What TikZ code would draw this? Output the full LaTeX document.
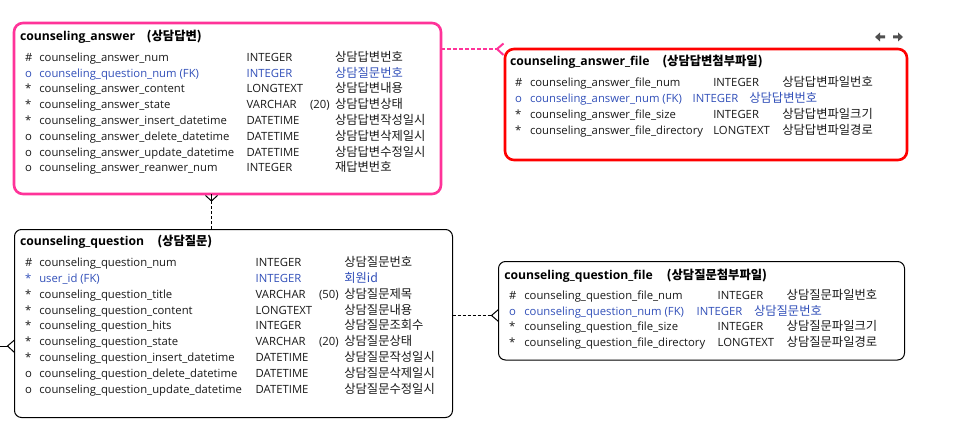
\documentclass[tikz,border=0pt]{standalone}
\usepackage{fontspec}
\setmainfont{Open Sans}
\newfontfamily\kr{Noto Sans CJK KR}
\definecolor{pinkc}{RGB}{255,51,153}
\definecolor{redc}{RGB}{255,0,0}
\definecolor{txt}{RGB}{25,25,25}
\definecolor{fk}{RGB}{50,80,185}
\definecolor{arrg}{RGB}{80,80,80}
\tikzset{
  cell/.style={anchor=base west, inner sep=0pt, outer sep=0pt, font=\fontsize{11.3}{13}\selectfont},
  kcell/.style={anchor=base west, inner sep=0pt, outer sep=0pt, font=\kr\fontsize{12.3}{13}\selectfont},
  ttl/.style={cell, text=black, font=\fontsize{12.2}{13}\selectfont\bfseries},
  kttl/.style={kcell, text=black, font=\kr\fontsize{12.3}{13}\selectfont\bfseries},
  ebox/.style={rectangle, anchor=north west, inner sep=0pt, outer sep=0pt},
  conn/.style={draw=black, line width=1pt, dash pattern=on 3pt off 2pt},
  crow/.style={draw=black, line width=1pt},
  pconn/.style={draw=pinkc, line width=2pt, dash pattern=on 4pt off 2pt},
  pcrow/.style={draw=pinkc, line width=2pt},
}
\begin{document}
\begin{tikzpicture}[x=1pt,y=-1pt]
\useasboundingbox[fill=white] (0,0) rectangle (955,433);

% boxes
\node[ebox, draw=pinkc, line width=2.6pt, rounded corners=9pt, minimum width=427pt, minimum height=171pt] (ans) at (14,23) {};
\node[ebox, draw=redc, line width=2.6pt, rounded corners=9pt, minimum width=402pt, minimum height=111pt] (af) at (505,49) {};
\node[ebox, draw=black, line width=1pt, rounded corners=7pt, minimum width=438pt, minimum height=188pt] (q) at (14.5,229.5) {};
\node[ebox, draw=black, line width=1pt, rounded corners=7pt, minimum width=406pt, minimum height=98.5pt] (qf) at (498.5,261.5) {};

% titles
\node[ttl] (ansT) at (20,41) {counseling\_answer};
\node[kttl] (ansK) at (146.7,41) {(상담답변)};
\node[ttl] (afT) at (510,65.7) {counseling\_answer\_file};
\node[kttl] (afK) at (662.3,65.7) {(상담답변첨부파일)};
\node[ttl] (qT) at (20,245.7) {counseling\_question};
\node[kttl] (qK) at (157.3,245.7) {(상담질문)};
\node[ttl] (qfT) at (504.3,279) {counseling\_question\_file};
\node[kttl] (qfK) at (666.7,279) {(상담질문첨부파일)};

% counseling_answer rows
\foreach \sy/\nm/\ty/\xlen/\ko/\cl [count=\i] in {
  \#/counseling\_answer\_num/INTEGER//상담답변번호/txt,
  o/counseling\_question\_num (FK)/INTEGER//상담질문번호/fk,
  */counseling\_answer\_content/LONGTEXT//상담답변내용/txt,
  */counseling\_answer\_state/VARCHAR/(20)/상담답변상태/txt,
  */counseling\_answer\_insert\_datetime/DATETIME//상담답변작성일시/txt,
  o/counseling\_answer\_delete\_datetime/DATETIME//상담답변삭제일시/txt,
  o/counseling\_answer\_update\_datetime/DATETIME//상담답변수정일시/txt,
  o/counseling\_answer\_reanwer\_num/INTEGER//재답변번호/txt}{
  \pgfmathsetmacro\yy{61.3+(\i-1)*15.8}
  \node[cell,text=\cl] (a\i s) at (25,\yy) {\sy};
  \node[cell,text=\cl] (a\i n) at (39.3,\yy) {\nm};
  \node[cell,text=\cl] (a\i t) at (246.7,\yy) {\ty};
  \node[cell,text=\cl] (a\i l) at (310,\yy) {\xlen};
  \node[kcell,text=\cl] (a\i k) at (335,\yy) {\ko};
}

% counseling_answer_file rows
\node[cell,text=txt] (f1s) at (515,86.3) {\#};
\node[cell,text=txt] (f1n) at (530,86.3) {counseling\_answer\_file\_num};
\node[cell,text=txt] (f1t) at (713.3,86.3) {INTEGER};
\node[kcell,text=txt] (f1k) at (782.3,86.3) {상담답변파일번호};
\node[cell,text=fk] (f2s) at (515,102.4) {o};
\node[cell,text=fk] (f2n) at (530,102.4) {counseling\_answer\_num (FK)};
\node[cell,text=fk] (f2t) at (692.7,102.4) {INTEGER};
\node[kcell,text=fk] (f2k) at (749.3,102.4) {상담답변번호};
\node[cell,text=txt] (f3s) at (515,118.5) {*};
\node[cell,text=txt] (f3n) at (530,118.5) {counseling\_answer\_file\_size};
\node[cell,text=txt] (f3t) at (713.3,118.5) {INTEGER};
\node[kcell,text=txt] (f3k) at (782.3,118.5) {상담답변파일크기};
\node[cell,text=txt] (f4s) at (515,134.6) {*};
\node[cell,text=txt] (f4n) at (530,134.6) {counseling\_answer\_file\_directory};
\node[cell,text=txt] (f4t) at (713.3,134.6) {LONGTEXT};
\node[kcell,text=txt] (f4k) at (782.3,134.6) {상담답변파일경로};

% counseling_question rows
\foreach \sy/\nm/\ty/\xlen/\ko/\cl [count=\i] in {
  \#/counseling\_question\_num/INTEGER//상담질문번호/txt,
  */user\_id (FK)/INTEGER//회원id/fk,
  */counseling\_question\_title/VARCHAR/(50)/상담질문제목/txt,
  */counseling\_question\_content/LONGTEXT//상담질문내용/txt,
  */counseling\_question\_hits/INTEGER//상담질문조회수/txt,
  */counseling\_question\_state/VARCHAR/(20)/상담질문상태/txt,
  */counseling\_question\_insert\_datetime/DATETIME//상담질문작성일시/txt,
  o/counseling\_question\_delete\_datetime/DATETIME//상담질문삭제일시/txt,
  o/counseling\_question\_update\_datetime/DATETIME//상담질문수정일시/txt}{
  \pgfmathsetmacro\yy{266.7+(\i-1)*15.8}
  \node[cell,text=\cl] (q\i s) at (25,\yy) {\sy};
  \node[cell,text=\cl] (q\i n) at (39.3,\yy) {\nm};
  \node[cell,text=\cl] (q\i t) at (255.7,\yy) {\ty};
  \node[cell,text=\cl] (q\i l) at (319,\yy) {\xlen};
  \node[kcell,text=\cl] (q\i k) at (344.3,\yy) {\ko};
}

% counseling_question_file rows
\node[cell,text=txt] (g1s) at (509,299.7) {\#};
\node[cell,text=txt] (g1n) at (524.3,299.7) {counseling\_question\_file\_num};
\node[cell,text=txt] (g1t) at (717.7,299.7) {INTEGER};
\node[kcell,text=txt] (g1k) at (786.7,299.7) {상담질문파일번호};
\node[cell,text=fk] (g2s) at (509,315.2) {o};
\node[cell,text=fk] (g2n) at (524.3,315.2) {counseling\_question\_num (FK)};
\node[cell,text=fk] (g2t) at (696.7,315.2) {INTEGER};
\node[kcell,text=fk] (g2k) at (754,315.2) {상담질문번호};
\node[cell,text=txt] (g3s) at (509,330.7) {*};
\node[cell,text=txt] (g3n) at (524.3,330.7) {counseling\_question\_file\_size};
\node[cell,text=txt] (g3t) at (717.7,330.7) {INTEGER};
\node[kcell,text=txt] (g3k) at (786.7,330.7) {상담질문파일크기};
\node[cell,text=txt] (g4s) at (509,346.2) {*};
\node[cell,text=txt] (g4n) at (524.3,346.2) {counseling\_question\_file\_directory};
\node[cell,text=txt] (g4t) at (717.7,346.2) {LONGTEXT};
\node[kcell,text=txt] (g4k) at (786.7,346.2) {상담질문파일경로};

% connector answer -> question (vertical)
\coordinate (v1) at (211.5,201);
\coordinate (v1l) at (205.5,195.5);
\coordinate (v1r) at (217.5,195.5);
\draw[conn] (v1) -- (q.north -| v1);
\draw[crow] (v1l) -- (v1) -- (v1r);
\draw[crow] (v1) -- (ans.south -| v1);

% connector answer -> answer_file (pink)
\coordinate (p1) at (497,49);
\coordinate (p1u) at (503.5,43.5);
\coordinate (p1d) at (503.5,55);
\draw[pconn] (ans.east |- p1) -- (p1);
\draw[pcrow, line join=miter] (p1u) -- (p1) -- (p1d);

% connector question -> question_file
\coordinate (p2) at (491.5,315.5);
\coordinate (p2u) at (498.5,309.5);
\coordinate (p2d) at (498.5,321.5);
\draw[conn] (q.east |- p2) -- (p2);
\draw[crow] (p2u) -- (p2) -- (p2d);

% connector entering question from the left
\coordinate (p0) at (0,346);
\coordinate (p3) at (7.5,346);
\coordinate (p3u) at (14.5,340);
\coordinate (p3d) at (14.5,352.5);
\draw[crow] (p0) -- (p3);
\draw[crow] (p3u) -- (p3) -- (p3d);

% small arrows top right
\fill[arrg] (875,37) -- (880,32.5) -- (880,35.5) -- (885,35.5) -- (885,38.5) -- (880,38.5) -- (880,41.5) -- cycle;
\fill[arrg] (903,37) -- (898,32.5) -- (898,35.5) -- (893,35.5) -- (893,38.5) -- (898,38.5) -- (898,41.5) -- cycle;
\end{tikzpicture}
\end{document}
